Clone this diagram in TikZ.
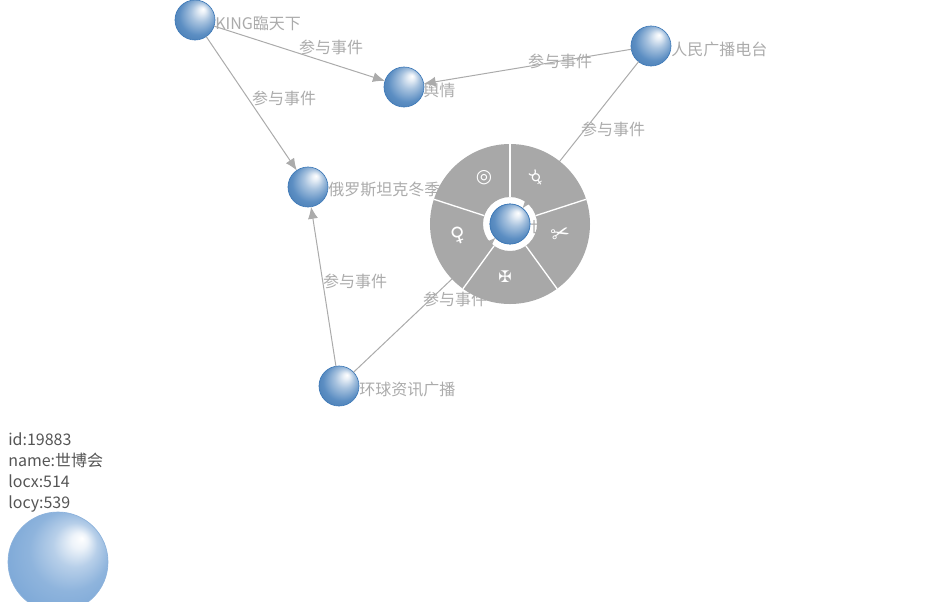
\documentclass[tikz,border=0pt]{standalone}
\usepackage{fontspec}
\usepackage{xcolor}
\usepackage{tikz}
\usetikzlibrary{calc,arrows.meta}
\setmainfont{Noto Sans CJK SC}
\newfontfamily\symfont{DejaVu Sans}
\definecolor{linkgray}{HTML}{ABABAB}
\definecolor{wheelgray}{HTML}{A8A8A8}
\definecolor{infotext}{HTML}{555555}
\definecolor{ballrim}{HTML}{3F7AB8}
\definecolor{bigrim}{HTML}{6F9FD3}
\pgfdeclareradialshading{ballshade}{\pgfpoint{10bp}{14bp}}{color(0bp)=(white); color(4bp)=(white!88!ballrim); color(12bp)=(white!55!ballrim); color(24bp)=(white!15!ballrim); color(40bp)=(ballrim!92!black)}
\pgfdeclareradialshading{bigshade}{\pgfpoint{12bp}{12bp}}{color(0bp)=(white); color(4bp)=(white!88!bigrim); color(11bp)=(white!50!bigrim); color(20bp)=(white!22!bigrim); color(38bp)=(bigrim)}
\tikzset{ball/.style={circle,minimum size=30pt,inner sep=0pt,outer sep=0pt,draw=ballrim,line width=.5pt,shade,shading=ballshade},
  bigball/.style={circle,minimum size=75pt,inner sep=0pt,draw=bigrim!80!white,line width=.5pt,shade,shading=bigshade},
  link/.style={linkgray,line width=.75pt,-{Latex[length=9pt,width=7.5pt]}},
  linklab/.style={text=linkgray,font=\fontsize{12}{14}\selectfont,inner sep=0pt},
  namelab/.style={linklab,anchor=west},
  icon/.style={text=white,font=\symfont\fontsize{14}{16}\selectfont,inner sep=0pt}}
\begin{document}
\begin{tikzpicture}[x=.75pt,y=-.75pt]
\clip (0,0) rectangle (939,601);
\useasboundingbox (0,0) rectangle (939,601);
\coordinate (hub) at (510,224);
\node[ball] (king) at (195,20) {}; \node[ball] (yuqing) at (404,87) {}; \node[ball] (renmin) at (651,46) {};
\node[ball] (eluosi) at (308,187) {}; \node[ball] (huanqiu) at (339,386) {};
\node[ball] (shibo) at (hub) {};
\draw[link] (king)--(yuqing); \draw[link] (renmin)--(yuqing); \draw[link] (king)--(eluosi);
\draw[link] (huanqiu)--(eluosi); \draw[link] (renmin)--(shibo); \draw[link] (huanqiu)--(shibo);
\node[linklab] (l1) at (331,47) {参与事件}; \node[linklab] (l2) at (284,98) {参与事件}; \node[linklab] (l3) at (560,61) {参与事件};
\node[linklab] (l4) at (613,129) {参与事件}; \node[linklab] (l5) at (355,281) {参与事件}; \node[linklab] (l6) at (455,299) {参与事件};
\node[namelab] (nking) at (215,23) {KING臨天下}; \node[namelab] (nyuqing) at (423,90) {舆情}; \node[namelab] (nrenmin) at (671,49) {人民广播电台};
\node[namelab] (neluosi) at (328,190) {俄罗斯坦克冬季}; \node[namelab] (nhuanqiu) at (359,390) {环球资讯广播}; \node[namelab] (nshibo) at (530,227) {世};
% menu wheel
\fill[wheelgray,even odd rule] (hub) circle (80) (hub) circle (27);
\foreach \a in {-90,-18,54,126,198} \draw[white,line width=1pt] ($(hub)+(\a:27)$) -- ($(hub)+(\a:80)$);
\node[ball] (shibotop) at (hub) {};
\node[icon] (i1) at (484,178) {◎}; \node[icon,rotate=35] (i2) at (537,178) {☿}; \node[icon,rotate=15,font=\symfont\fontsize{17}{19}\selectfont] (i3) at (561,235) {✂};
\node[icon,font=\symfont\fontsize{12}{14}\selectfont] (i4) at (505,277) {✠}; \node[icon,rotate=18,font=\symfont\fontsize{15}{17}\selectfont] (i5) at (459,235) {♀};
% info panel
\node[text=infotext,font=\fontsize{12}{15.75}\selectfont,align=left,anchor=north west,inner sep=0pt] (info) at (8,432) {id:19883\\name:世博会\\locx:514\\locy:539};
\node[bigball] (bigb) at (58,562) {};
\end{tikzpicture}
\end{document}
